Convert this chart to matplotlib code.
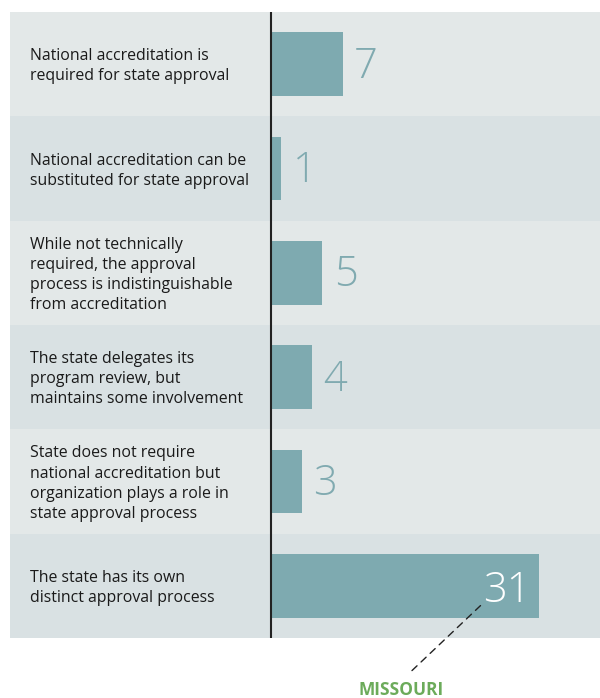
import matplotlib.pyplot as plt

# categories, top to bottom
labels = [
    "National accreditation is\nrequired for state approval",
    "National accreditation can be\nsubstituted for state approval",
    "While not technically\nrequired, the approval\nprocess is indistinguishable\nfrom accreditation",
    "The state delegates its\nprogram review, but\nmaintains some involvement",
    "State does not require\nnational accreditation but\norganization plays a role in\nstate approval process",
    "The state has its own\ndistinct approval process",
]
counts = [7, 1, 5, 4, 3, 31]
bar_cap = 26.1  # the long bar is cut short in the original
highlight = "MISSOURI"

row_colors = ["#e3e8e8", "#d9e1e3"]
bar_color = "#7eaab0"
num_color = "#80aab0"

plt.rcParams['font.family'] = ['Open Sans', 'DejaVu Sans']

fig = plt.figure(figsize=(6, 6.98), dpi=100)
ax = fig.add_axes([10 / 600, 60 / 698, 590 / 600, 626 / 698])
ax.set_xlim((10 - 271) / 10.27, (600 - 271) / 10.27)
ax.set_ylim(len(counts) - 0.5, -0.5)
ax.axis('off')

for i in range(len(counts)):
    ax.axhspan(i - 0.5, i + 0.5, color=row_colors[i % 2], lw=0, zorder=0)

shown = [min(c, bar_cap) for c in counts]
ax.barh(range(len(counts)), shown, height=0.613, color=bar_color, zorder=2)
ax.axvline(0, color="#222222", lw=1.5, zorder=3)

for i, (lab, c, s) in enumerate(zip(labels, counts, shown)):
    ax.text((30 - 271) / 10.27, i + 0.02, lab, ha='left', va='center', fontsize=11.4,
            color="#1a1a1a", linespacing=1.34, zorder=4)
    if c > bar_cap:
        ax.text(s - 0.8, i + 0.05, str(c), ha='right', va='center', fontsize=30,
                color='white', fontweight='light', zorder=4)
    else:
        ax.text(s + 1.1, i + 0.02, str(c), ha='left', va='center', fontsize=30,
                color=num_color, fontweight='light', zorder=4)

ax.annotate(highlight, xy=(20.5, 5.18), xycoords='data',
            xytext=(401, 8), textcoords='figure pixels',
            ha='center', va='center', fontsize=12.5, fontweight='bold',
            color="#6cab5a", annotation_clip=False,
            arrowprops=dict(arrowstyle='-', color='#222222', lw=1,
                            linestyle=(0, (5, 4)), relpos=(0.5, 1.0),
                            shrinkA=8, shrinkB=0))

fig.savefig("out.png", dpi=100)
